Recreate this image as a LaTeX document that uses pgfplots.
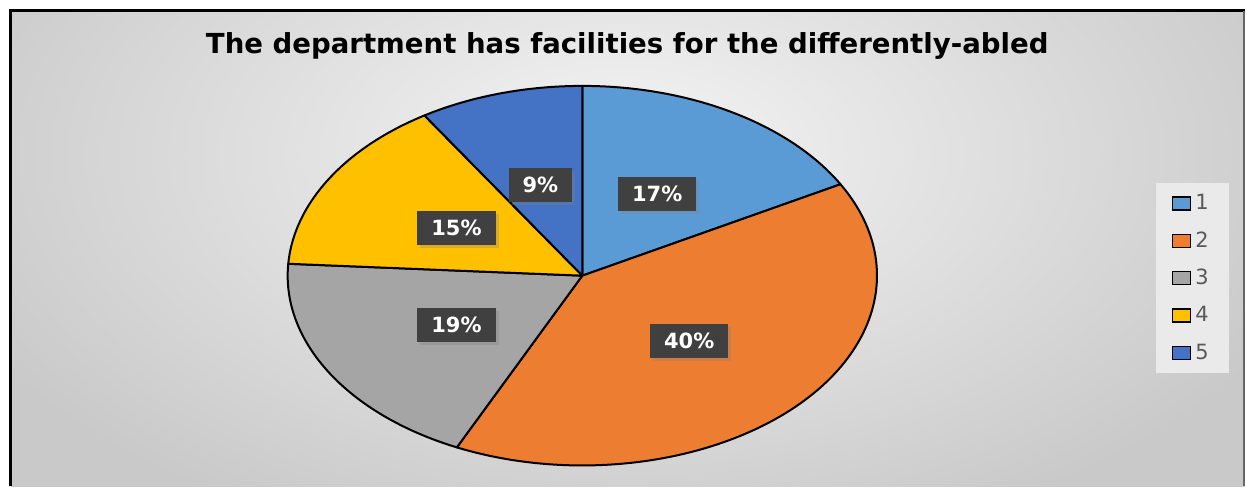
\documentclass[border=0pt]{standalone}
\usepackage{pgfplots}
\pgfplotsset{compat=1.18}
\usepackage{fontspec}
\setmainfont{DejaVu Sans}
\usetikzlibrary{shadows}

\definecolor{cA}{HTML}{5B9BD5}
\definecolor{cB}{HTML}{ED7D31}
\definecolor{cC}{HTML}{A5A5A5}
\definecolor{cD}{HTML}{FFC000}
\definecolor{cE}{HTML}{4472C4}
\definecolor{lblbg}{HTML}{404040}
\definecolor{legbg}{HTML}{EAEAEA}
\definecolor{legtxt}{HTML}{595959}

% share of each answer (percent)
\def\vA{17}\def\vB{40}\def\vC{19}\def\vD{15}\def\vE{9}

% one wedge, from cumulative percent #1 to #2, clockwise from the top
\newcommand\slice[3]{%
  \filldraw[fill=#3, draw=black, line width=1pt, line join=round]
    (axis cs:583,276) -- ++({147.5pt*cos(90-3.6*(#1))},{95pt*sin(90-3.6*(#1))})
    arc[start angle={90-3.6*(#1)}, end angle={90-3.6*(#2)},
        x radius=147.5pt, y radius=95pt] -- cycle;}

\tikzset{pct/.style={fill=lblbg, text=white, font=\bfseries\fontsize{10.5}{12}\selectfont,
  inner xsep=7pt, minimum height=17pt,
  drop shadow={shadow xshift=1.5pt, shadow yshift=-1.5pt, opacity=0.3}}}

\begin{document}
\begin{tikzpicture}
\begin{axis}[
    width=623pt, height=243.5pt, scale only axis,
    xmin=0, xmax=1246, ymin=0, ymax=487, y dir=reverse,
    hide axis, clip=false,
    legend style={at={(axis cs:1157,183)}, anchor=north west,
      fill=legbg, draw=none, inner xsep=8pt, inner ysep=3.5pt,
      row sep=5.5pt, font=\fontsize{10.5}{12}\selectfont, text=legtxt,
      cells={anchor=west}},
    legend image code/.code={%
      \draw[#1, draw=black, line width=0.7pt] (0pt,-3.25pt) rectangle (9pt,3.25pt);},
  ]
  % background
  \fill[white] (axis cs:0,0) rectangle (axis cs:1246,487);
  \begin{scope}
    \clip (axis cs:11,11) rectangle (axis cs:1246,487);
    \shade[inner color=black!4, outer color=black!21]
      (axis cs:-100,-250) rectangle (axis cs:1350,560);
  \end{scope}
  \draw[black, line width=1.5pt] (axis cs:11,487) -- (axis cs:11,11) -- (axis cs:1246,11);
  \draw[black!60, line width=1pt] (axis cs:1245,11) -- (axis cs:1245,487);

  \node[font=\bfseries\fontsize{13.8}{16}\selectfont] at (axis cs:628,46)
    {The department has facilities for the differently-abled};

  % pie
  \slice{0}{\vA}{cA}
  \slice{\vA}{\vA+\vB}{cB}
  \slice{\vA+\vB}{\vA+\vB+\vC}{cC}
  \slice{\vA+\vB+\vC}{\vA+\vB+\vC+\vD}{cD}
  \slice{\vA+\vB+\vC+\vD}{100}{cE}

  \node[pct] at (axis cs:658,194) {\vA\%};
  \node[pct] at (axis cs:690,341) {\vB\%};
  \node[pct] at (axis cs:457,325) {\vC\%};
  \node[pct] at (axis cs:457,228) {\vD\%};
  \node[pct] at (axis cs:541,185) {\vE\%};

  \addlegendimage{fill=cA}\addlegendentry{1}
  \addlegendimage{fill=cB}\addlegendentry{2}
  \addlegendimage{fill=cC}\addlegendentry{3}
  \addlegendimage{fill=cD}\addlegendentry{4}
  \addlegendimage{fill=cE}\addlegendentry{5}
\end{axis}
\end{tikzpicture}
\end{document}
